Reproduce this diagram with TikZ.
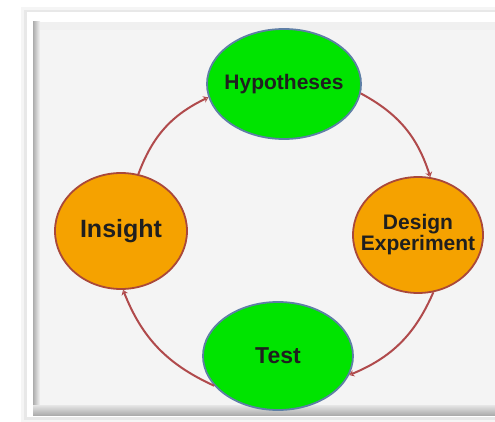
\documentclass[tikz,border=0pt]{standalone}
\usepackage{fontspec}
\setmainfont{Liberation Sans}
\usetikzlibrary{arrows.meta,shapes.geometric}
\definecolor{stategreen}{HTML}{00E400}
\definecolor{stateorange}{HTML}{F5A200}
\definecolor{greenrim}{HTML}{5E7FA6}
\definecolor{orangerim}{HTML}{A9483A}
\definecolor{cyclered}{HTML}{B04A4C}
\definecolor{panelgray}{HTML}{F4F4F4}
\tikzset{
  state/.style={ellipse, inner xsep=-12pt, inner ysep=0pt, line width=1.8pt, text=black!88, font=\bfseries},
  green state/.style={state, fill=stategreen, draw=greenrim},
  orange state/.style={state, fill=stateorange, draw=orangerim},
  cycle arrow/.style={-{Stealth[open,length=5pt,width=7pt]}, line width=2pt, color=cyclered}
}
\begin{document}
\begin{tikzpicture}[x=1pt, y=-1pt]
      \useasboundingbox (0,0) rectangle (495,422);
      \fill[white] (0,0) rectangle (495,422);

      \fill[black, opacity=0.04] (21,7) rectangle (495,422);
      \fill[black, opacity=0.05] (24,10) rectangle (495,420);
      \fill[white] (27,12) rectangle (495,417);
      \shade[left color=gray!65, right color=gray!8] (33,22) rectangle (40,410);
      \fill[gray!12] (40,22) rectangle (495,30);
      \shade[top color=gray!20, bottom color=gray!65] (33,405) rectangle (495,415);
      \fill[panelgray] (40,30) rectangle (495,405);

      \node[green state, minimum width=154pt, minimum height=110pt, font=\fontsize{21}{24}\bfseries] (hyp) at (284,84) {Hypotheses};
      \node[orange state, minimum width=130pt, minimum height=116pt, font=\fontsize{21}{24}\bfseries, align=center] (design) at (418,235) {Design\\[-3pt]Experiment};
      \node[green state, minimum width=150pt, minimum height=108pt, font=\fontsize{23}{26}\bfseries] (test) at (278,356) {Test};
      \node[orange state, minimum width=132pt, minimum height=116pt, font=\fontsize{25}{28}\bfseries] (insight) at (121,231) {Insight};

      \draw[cycle arrow] (insight.73) to[bend left=22] (hyp.190);
      \draw[cycle arrow] (hyp.-7) to[bend left=22] (design.78);
      \draw[cycle arrow] (design.-75) to[bend left=22] (test.-15);
      \draw[cycle arrow] (test.205) to[bend left=22] (insight.-88);
\end{tikzpicture}
\end{document}
